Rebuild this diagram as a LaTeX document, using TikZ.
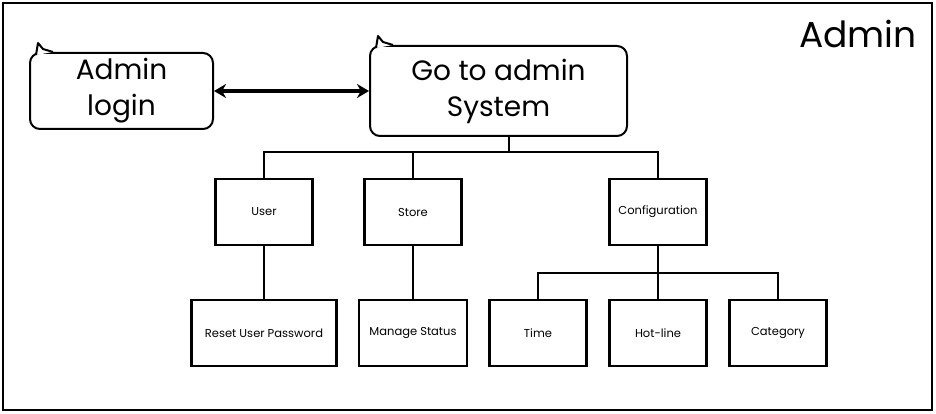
\documentclass[tikz,border=0pt]{standalone}
\usepackage{fontspec}
\setmainfont{Poppins}
\usetikzlibrary{arrows.meta}

\begin{document}
\begin{tikzpicture} [x=1pt,y=-1pt]
\tikzstyle{box}=[rectangle,draw,line width=2.2pt,minimum width=97pt,minimum height=66pt,inner sep=2pt,font=\fontsize{11.5}{13}\selectfont]
\tikzstyle{callout}=[rectangle,draw,line width=2pt,rounded corners=10pt,align=center,font=\fontsize{28}{36}\selectfont]
\tikzstyle{tail}=[draw,fill=white,line width=2pt,line join=round]
\tikzstyle{link}=[line width=2.2pt]
\useasboundingbox (0,0) rectangle (936,414);
\draw[line width=2.6pt] (3,3) rectangle (932,410);
\node at(858,34) (title) {\fontsize{36}{40}\selectfont Admin};
% callouts
\node at(121.5,91) (login) [callout,minimum width=183pt,minimum height=76pt]{Admin\\login};
\node at(498.5,91) (go) [callout,minimum width=257pt,minimum height=90pt]{Go to admin\\System};
\path[tail] ([shift={(7,3)}]login.north west) -- ([shift={(9,-9)}]login.north west) -- ([shift={(14,-3)}]login.north west) -- ([shift={(24,0)}]login.north west);
\path[tail] ([shift={(7,3)}]go.north west) -- ([shift={(9,-9)}]go.north west) -- ([shift={(14,-3)}]go.north west) -- ([shift={(24,0)}]go.north west);
\draw[line width=4pt,{Stealth[length=12pt,width=14pt]}-{Stealth[length=12pt,width=14pt]}] (login) -- (go);
% first level
\node at(264,212) (user) [box]{User};
\node at(413,212) (store) [box]{Store};
\node at(658,212) (config) [box]{Configuration};
\coordinate (bus) at (509,152);
\draw[link] (bus |- go.south) -- (bus) -| (user.north);
\draw[link] (bus) -| (config.north);
\draw[link] (store.north) -- (store.north |- bus);
% second level
\node at(264,333) (reset) [box,minimum width=145pt]{Reset User Password}
	edge [link] (user);
\node at(413,333) (manage) [box,minimum width=108pt]{Manage Status}
	edge [link] (store);
\node at(538,333) (time) [box]{Time};
\node at(658,333) (hotline) [box]{Hot-line};
\node at(778,333) (category) [box]{Category};
\coordinate (cbus) at (658,273);
\draw[link] (config.south) -- (cbus) -| (time.north);
\draw[link] (cbus) -| (category.north);
\draw[link] (cbus) -- (hotline.north);
\end{tikzpicture}
\end{document}
